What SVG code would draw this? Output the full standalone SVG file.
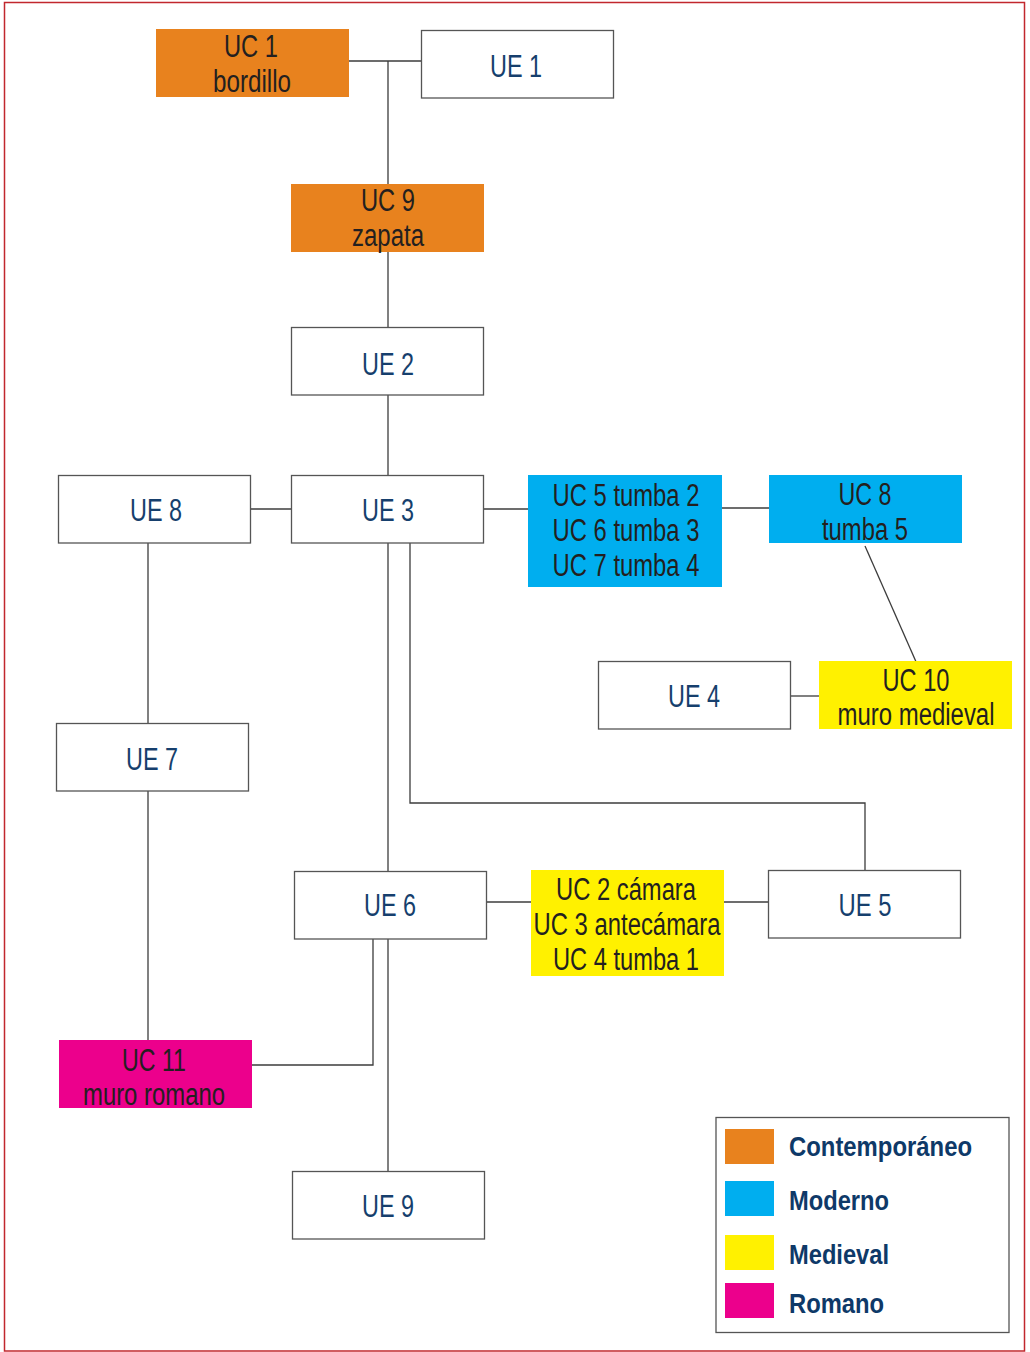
<svg xmlns="http://www.w3.org/2000/svg" width="1030" height="1352" viewBox="0 0 1030 1352">
<style>
.ue{fill:#ffffff;stroke:#555555;stroke-width:1.3}
.c{stroke:none}
.or{fill:#e8821e}.bl{fill:#00aeef}.ye{fill:#fff100}.ma{fill:#ec008c}
text{font-family:"Liberation Sans",Arial,sans-serif;font-size:31px;text-anchor:middle}
.tu{fill:#163f6d}
.tc{fill:#231f20}
.lg{font-weight:bold;font-size:28px;fill:#0e3968;text-anchor:start}
#connectors path{fill:none;stroke:#3c3c3c;stroke-width:1.3}
</style>
<rect x="4.5" y="2.5" width="1020" height="1348.5" fill="#ffffff" stroke="#c1272d" stroke-width="1.5"/>
<g id="connectors">
<path d="M349 61H421M388 61V184"/>
<path d="M388 252V327"/>
<path d="M388 395V475"/>
<path d="M251 509H291"/>
<path d="M484 509H528"/>
<path d="M722 508H769"/>
<path d="M865 546L917 664"/>
<path d="M791 696H819"/>
<path d="M148 543V723"/>
<path d="M148 791V1040"/>
<path d="M388 543V871"/>
<path d="M410 543V803H865V870"/>
<path d="M487 902H531"/>
<path d="M724 902H768"/>
<path d="M373 939V1065H252"/>
<path d="M388 939V1171"/>
</g>
<g id="uc1"><rect class="c or" x="156" y="29" width="193" height="68"/><text class="tc" x="251" y="57" textLength="54" lengthAdjust="spacingAndGlyphs">UC 1</text><text class="tc" x="252" y="92" textLength="78" lengthAdjust="spacingAndGlyphs">bordillo</text></g>
<g id="ue1"><rect class="ue" x="421.5" y="30.5" width="192" height="67.5"/><text class="tu" x="516" y="77" textLength="52" lengthAdjust="spacingAndGlyphs">UE 1</text></g>
<g id="uc9"><rect class="c or" x="291" y="184" width="193" height="68"/><text class="tc" x="388" y="211" textLength="54" lengthAdjust="spacingAndGlyphs">UC 9</text><text class="tc" x="388" y="246" textLength="72" lengthAdjust="spacingAndGlyphs">zapata</text></g>
<g id="ue2"><rect class="ue" x="291.5" y="327.5" width="192" height="67.5"/><text class="tu" x="388" y="375" textLength="52" lengthAdjust="spacingAndGlyphs">UE 2</text></g>
<g id="ue3"><rect class="ue" x="291.5" y="475.5" width="192" height="67.5"/><text class="tu" x="388" y="521" textLength="52" lengthAdjust="spacingAndGlyphs">UE 3</text></g>
<g id="ue8"><rect class="ue" x="58.5" y="475.5" width="192" height="67.5"/><text class="tu" x="156" y="521" textLength="52" lengthAdjust="spacingAndGlyphs">UE 8</text></g>
<g id="uc5"><rect class="c bl" x="528" y="475" width="194" height="112"/><text class="tc" x="626" y="506" textLength="147" lengthAdjust="spacingAndGlyphs">UC 5 tumba 2</text><text class="tc" x="626" y="541" textLength="147" lengthAdjust="spacingAndGlyphs">UC 6 tumba 3</text><text class="tc" x="626" y="576" textLength="147" lengthAdjust="spacingAndGlyphs">UC 7 tumba 4</text></g>
<g id="uc8"><rect class="c bl" x="769" y="475" width="193" height="68"/><text class="tc" x="865" y="505" textLength="53" lengthAdjust="spacingAndGlyphs">UC 8</text><text class="tc" x="865" y="540" textLength="86" lengthAdjust="spacingAndGlyphs">tumba 5</text></g>
<g id="ue4"><rect class="ue" x="598.5" y="661.5" width="192" height="67.5"/><text class="tu" x="694" y="707" textLength="52" lengthAdjust="spacingAndGlyphs">UE 4</text></g>
<g id="uc10"><rect class="c ye" x="819" y="661" width="193" height="68"/><text class="tc" x="916" y="691" textLength="67" lengthAdjust="spacingAndGlyphs">UC 10</text><text class="tc" x="916" y="725" textLength="157" lengthAdjust="spacingAndGlyphs">muro medieval</text></g>
<g id="ue7"><rect class="ue" x="56.5" y="723.5" width="192" height="67.5"/><text class="tu" x="152" y="770" textLength="52" lengthAdjust="spacingAndGlyphs">UE 7</text></g>
<g id="ue6"><rect class="ue" x="294.5" y="871.5" width="192" height="67.5"/><text class="tu" x="390" y="916" textLength="52" lengthAdjust="spacingAndGlyphs">UE 6</text></g>
<g id="uc2"><rect class="c ye" x="531" y="870" width="193" height="106"/><text class="tc" x="626" y="900" textLength="140" lengthAdjust="spacingAndGlyphs">UC 2 cámara</text><text class="tc" x="627" y="935" textLength="187" lengthAdjust="spacingAndGlyphs">UC 3 antecámara</text><text class="tc" x="626" y="970" textLength="146" lengthAdjust="spacingAndGlyphs">UC 4 tumba 1</text></g>
<g id="ue5"><rect class="ue" x="768.5" y="870.5" width="192" height="67.5"/><text class="tu" x="865" y="916" textLength="53" lengthAdjust="spacingAndGlyphs">UE 5</text></g>
<g id="uc11"><rect class="c ma" x="59" y="1040" width="193" height="68"/><text class="tc" x="154" y="1071" textLength="64" lengthAdjust="spacingAndGlyphs">UC 11</text><text class="tc" x="154" y="1105" textLength="142" lengthAdjust="spacingAndGlyphs">muro romano</text></g>
<g id="ue9"><rect class="ue" x="292.5" y="1171.5" width="192" height="67.5"/><text class="tu" x="388" y="1217" textLength="52" lengthAdjust="spacingAndGlyphs">UE 9</text></g>
<g id="legend">
<rect x="716" y="1117.5" width="293" height="215" fill="#ffffff" stroke="#555555" stroke-width="1.3"/>
<rect class="or" x="725" y="1129" width="49" height="35"/>
<rect class="bl" x="725" y="1181" width="49" height="35"/>
<rect class="ye" x="725" y="1235" width="49" height="35"/>
<rect class="ma" x="725" y="1283" width="49" height="35"/>
<text class="lg" x="789" y="1156" textLength="183" lengthAdjust="spacingAndGlyphs">Contemporáneo</text>
<text class="lg" x="789" y="1210" textLength="100" lengthAdjust="spacingAndGlyphs">Moderno</text>
<text class="lg" x="789" y="1264" textLength="100" lengthAdjust="spacingAndGlyphs">Medieval</text>
<text class="lg" x="789" y="1313" textLength="95" lengthAdjust="spacingAndGlyphs">Romano</text>
</g>
</svg>
